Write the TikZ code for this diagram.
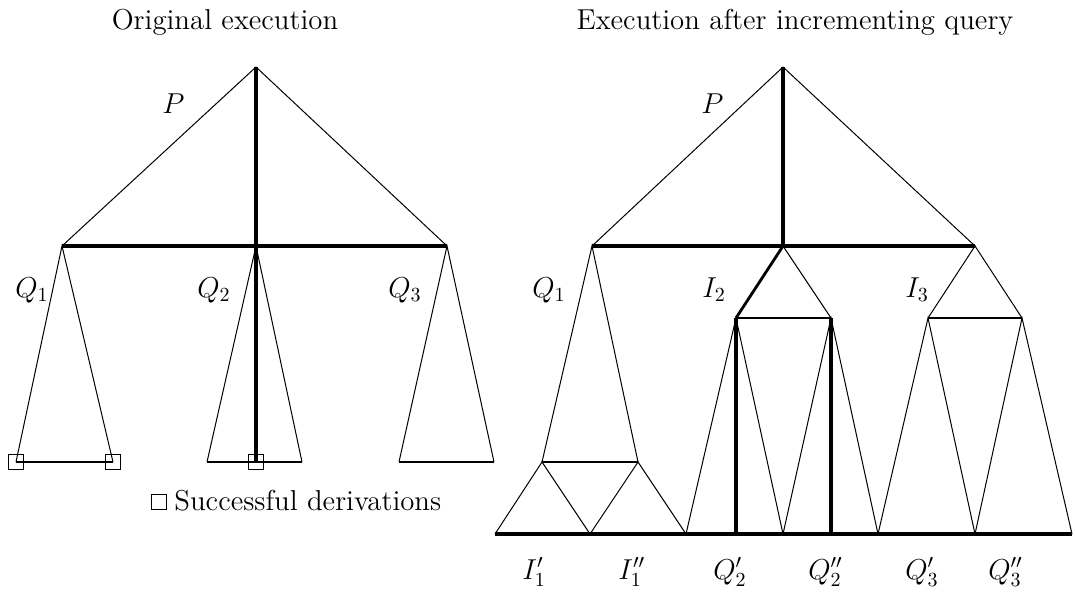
\documentclass[tikz,border=0pt]{standalone}
\usepackage{fontspec}
\begin{document}
\begin{tikzpicture}[x=0.5pt,y=-0.5pt,
  thinln/.style={line width=0.5pt},
  barln/.style={line width=1.6pt},
  baseln/.style={line width=1.1pt},
  vertln/.style={line width=2.2pt},
  medln/.style={line width=1.4pt},
  lbl/.style={inner sep=0pt, anchor=base west, font=\Large},
  txt/.style={inner sep=0pt, anchor=base west, font=\Large\addfontfeatures{LetterSpace=2}},
  ttl/.style={inner sep=0pt, anchor=base, font=\Large\addfontfeatures{LetterSpace=2}},
  succ/.style={draw, line width=0.5pt, minimum size=7.5pt, inner sep=0pt}
]
\useasboundingbox (0,0) rectangle (1075,591);

% ---------- titles ----------
\node[ttl] (t1) at (225,29) {Original execution};
\node[ttl] (t2) at (795,29) {Execution after incrementing query};

% ---------- left tree ----------
\coordinate (LA) at (256,67);
\coordinate (LB1) at (62,246);
\coordinate (LB2) at (256,246);
\coordinate (LB3) at (447,246);
\coordinate (L1a) at (16,462);  \coordinate (L1b) at (113,462);
\coordinate (L2a) at (207,462); \coordinate (L2m) at (256,462); \coordinate (L2b) at (302,462);
\coordinate (L3a) at (399,462); \coordinate (L3b) at (494,462);

\draw[thinln] (LB1) -- (LA) -- (LB3);
\draw[thinln] (L1a) -- (LB1) -- (L1b);
\draw[thinln] (L2a) -- (LB2) -- (L2b);
\draw[thinln] (L3a) -- (LB3) -- (L3b);
\draw[baseln] (L1a) -- (L1b);
\draw[baseln] (L2a) -- (L2b);
\draw[baseln] (L3a) -- (L3b);
\draw[barln] (LB1) -- (LB3);
\draw[vertln] (LA) -- (L2m);

\node[succ] (s1) at (L1a) {};
\node[succ] (s2) at (L1b) {};
\node[succ] (s3) at (L2m) {};

\node[lbl] (lP) at (162,113) {$P$};
\node[lbl] (lQ1) at (15,297) {$Q_1$};
\node[lbl] (lQ2) at (197,297) {$Q_2$};
\node[lbl] (lQ3) at (388,297) {$Q_3$};

% legend
\node[succ] (leg) at (159,502) {};
\node[txt] (legtext) at (174,510) {Successful derivations};

% ---------- right tree ----------
\coordinate (RA) at (783,67);
\coordinate (RB1) at (592,246);
\coordinate (RB2) at (783,246);
\coordinate (RB3) at (975,246);
\coordinate (R1a) at (542,462); \coordinate (R1b) at (638,462);
\coordinate (I2a) at (736,318); \coordinate (I2b) at (831,318);
\coordinate (I3a) at (928,318); \coordinate (I3b) at (1022,318);
\coordinate (B0) at (495,534);
\coordinate (B1) at (590,534);
\coordinate (B2) at (686,534);
\coordinate (B3) at (783,534);
\coordinate (B4) at (878,534);
\coordinate (B5) at (975,534);
\coordinate (B6) at (1072,534);
\coordinate (V1) at (736,534);
\coordinate (V2) at (831,534);

\draw[thinln] (RB1) -- (RA) -- (RB3);
% Q1 and I1 triangles
\draw[thinln] (R1a) -- (RB1) -- (R1b);
\draw[baseln] (R1a) -- (R1b);
\draw[thinln] (B0) -- (R1a) -- (B1);
\draw[thinln] (B1) -- (R1b) -- (B2);
% I2
\draw[medln] (RB2) -- (I2a);
\draw[thinln] (RB2) -- (I2b);
\draw[line width=1.2pt] (I2a) -- (I2b);
% Q2', Q2''
\draw[thinln] (B2) -- (I2a) -- (B3);
\draw[thinln] (B3) -- (I2b) -- (B4);
\draw[vertln] (I2a) -- (V1);
\draw[vertln] (I2b) -- (V2);
% I3
\draw[thinln] (I3a) -- (RB3) -- (I3b);
\draw[line width=1.2pt] (I3a) -- (I3b);
% Q3', Q3''
\draw[thinln] (B4) -- (I3a) -- (B5);
\draw[thinln] (B5) -- (I3b) -- (B6);
% bars
\draw[barln] (RB1) -- (RB3);
\draw[vertln] (RA) -- (RB2);
\draw[barln] (B0) -- (B6);

\node[lbl] (rP) at (701,113) {$P$};
\node[lbl] (rQ1) at (532,297) {$Q_1$};
\node[lbl] (rI2) at (702,297) {$I_2$};
\node[lbl] (rI3) at (905,297) {$I_3$};
\node[lbl] (bI1a) at (522,579) {$I_1'$};
\node[lbl] (bI1b) at (618,579) {$I_1''$};
\node[lbl] (bQ2a) at (713,579) {$Q_2'$};
\node[lbl] (bQ2b) at (808,579) {$Q_2''$};
\node[lbl] (bQ3a) at (905,579) {$Q_3'$};
\node[lbl] (bQ3b) at (988,579) {$Q_3''$};
\end{tikzpicture}
\end{document}
